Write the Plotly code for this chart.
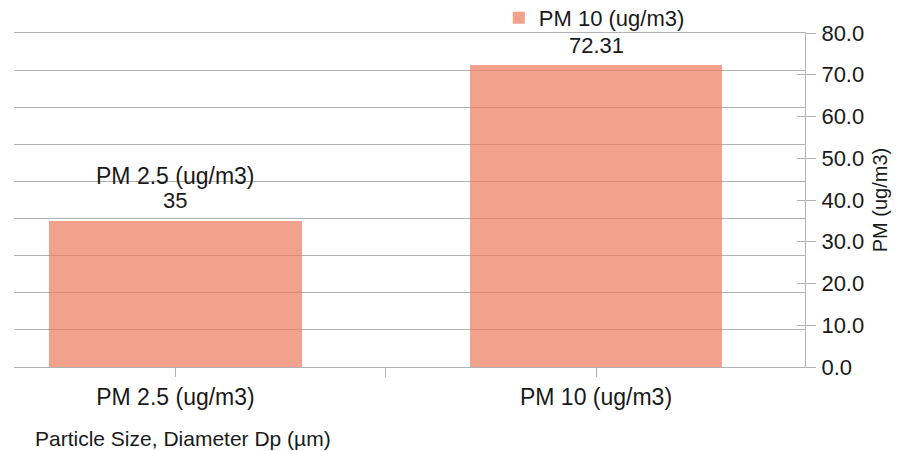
import plotly.graph_objects as go

categories = ["PM 2.5 (ug/m3)", "PM 10 (ug/m3)"]
values = [35, 72.31]
value_labels = ["35", "72.31"]
series_name = "PM 10 (ug/m3)"
y_ticks = [0, 10, 20, 30, 40, 50, 60, 70, 80]
x_title = "Particle Size, Diameter Dp (µm)"
y_title = "PM (ug/m3)"

FONT = "Liberation Sans"
TXT = "#1a1a1a"
GRID = "#b3b3b3"
BAR = "rgba(236,121,92,0.7)"

xpos = list(range(len(categories)))

fig = go.Figure()
fig.add_trace(go.Bar(
    x=xpos, y=values, width=0.60, name=series_name,
    marker=dict(color=BAR, line=dict(width=0)),
    yaxis="y", showlegend=True, hoverinfo="y",
))
# hidden axis providing the background grid (9 divisions)
fig.add_trace(go.Scatter(x=[0], y=[0], yaxis="y2", mode="markers",
                         marker=dict(opacity=0), showlegend=False, hoverinfo="skip"))
# inner tick marks on the right axis
fig.add_trace(go.Scatter(x=[0], y=[0], yaxis="y3", mode="markers",
                         marker=dict(opacity=0), showlegend=False, hoverinfo="skip"))

annotations = []
for i, (xv, yv) in enumerate(zip(xpos, values)):
    annotations.append(dict(
        x=xv, y=yv, xref="x", yref="y", text=value_labels[i], showarrow=False,
        yanchor="middle", yshift=20, font=dict(family=FONT, size=22, color=TXT),
    ))
# category name above the first bar (second one sits under the legend)
annotations.append(dict(
    x=xpos[0], y=values[0], xref="x", yref="y", text=categories[0], showarrow=False,
    yanchor="middle", yshift=45, font=dict(family=FONT, size=23, color=TXT),
))
annotations.append(dict(
    text=x_title, xref="paper", yref="paper", x=0.024, y=-0.2126,
    xanchor="left", yanchor="middle", showarrow=False,
    font=dict(family=FONT, size=21, color=TXT),
))

fig.update_layout(
    width=902, height=451,
    margin=dict(l=14, r=97, t=33, b=84, autoexpand=False),
    paper_bgcolor="white", plot_bgcolor="white",
    font=dict(family=FONT, size=22, color=TXT),
    bargap=0,
    xaxis=dict(
        range=[-0.384, 1.497], automargin=False,
        tickvals=[0, 0.5, 1],
        ticktext=[categories[0], "", categories[1]],
        ticks="outside", ticklen=9, tickcolor=GRID, tickwidth=1,
        showline=True, linecolor=GRID, linewidth=1, mirror=True,
        showgrid=False, zeroline=False,
        tickfont=dict(family=FONT, size=23, color=TXT),
    ),
    yaxis=dict(
        side="right", range=[0, 80], tickvals=y_ticks, tickformat=".1f",
        automargin=False,
        ticks="outside", ticklen=10, tickcolor=GRID, ticklabelstandoff=1,
        showline=True, linecolor=GRID, linewidth=1,
        showgrid=False, zeroline=False,
        tickfont=dict(family=FONT, size=22, color=TXT),
        title=dict(text=y_title, font=dict(family=FONT, size=20, color=TXT), standoff=9),
    ),
    yaxis2=dict(
        overlaying="y", side="left", range=[0, 9], dtick=1, automargin=False,
        showgrid=True, gridcolor=GRID, gridwidth=1,
        showticklabels=False, ticks="", showline=False, zeroline=False,
    ),
    yaxis3=dict(
        overlaying="y", side="right", range=[0, 80], tickvals=y_ticks, automargin=False,
        ticks="inside", ticklen=8, tickcolor=GRID,
        showticklabels=False, showgrid=False, showline=False, zeroline=False,
    ),
    legend=dict(
        orientation="h", xref="container", yref="container",
        x=0.553, xanchor="left", y=0.960, yanchor="middle",
        font=dict(family=FONT, size=22, color=TXT), bgcolor="rgba(0,0,0,0)",
    ),
    annotations=annotations,
)

fig.write_html("out.html", config={"displayModeBar": False},
               post_script="document.body.style.margin='0';")
